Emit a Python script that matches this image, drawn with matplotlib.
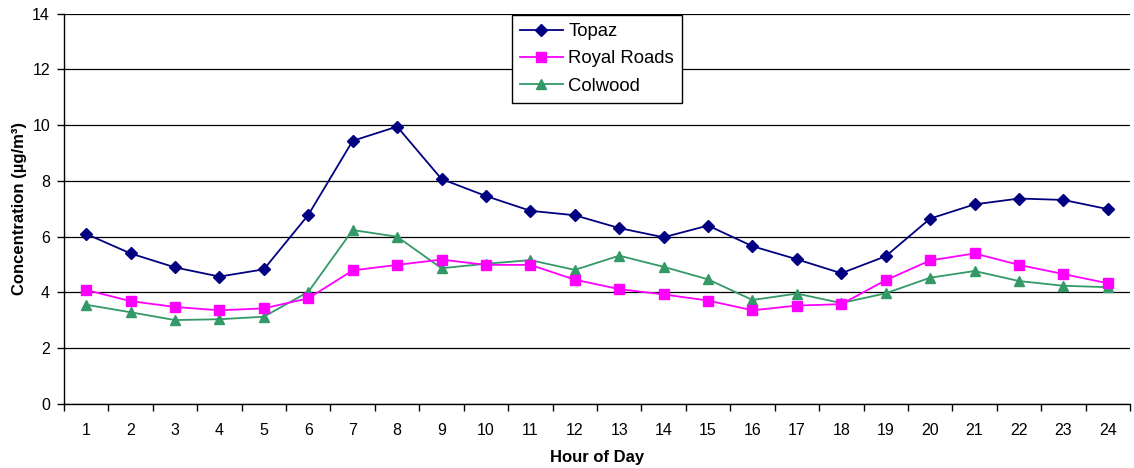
import matplotlib
matplotlib.use("Agg")
import matplotlib.pyplot as plt
import numpy as np

hours = list(range(1, 25))
hour_labels = [str(h) for h in hours]

topaz = [6.10, 5.40, 4.90, 4.57, 4.83, 6.78, 9.44, 9.95, 8.07, 7.46, 6.93, 6.77,
         6.31, 5.98, 6.40, 5.66, 5.19, 4.69, 5.30, 6.65, 7.16, 7.37, 7.32, 6.99]
royal_roads = [4.09, 3.69, 3.48, 3.36, 3.43, 3.79, 4.79, 4.99, 5.18, 4.99, 4.99, 4.46,
               4.12, 3.93, 3.71, 3.36, 3.53, 3.58, 4.44, 5.15, 5.40, 4.99, 4.66, 4.33]
colwood = [3.56, 3.29, 3.01, 3.04, 3.13, 4.02, 6.24, 6.00, 4.87, 5.03, 5.16, 4.81,
           5.32, 4.92, 4.47, 3.73, 3.96, 3.62, 3.97, 4.53, 4.77, 4.41, 4.24, 4.19]

y_ticks = [0, 2, 4, 6, 8, 10, 12, 14]

plt.rcParams['font.family'] = ['Liberation Sans', 'DejaVu Sans']

fig = plt.figure(figsize=(11.34, 4.68), dpi=100)
ax = fig.add_axes([0.0564, 0.1368, 0.9401, 0.8339])

ax.plot(hours, topaz, color='#000080', lw=1.3, marker='D', ms=6,
        markeredgecolor='#000080', label='Topaz', zorder=5)
ax.plot(hours, royal_roads, color='#FF00FF', lw=1.3, marker='s', ms=6.8,
        markeredgecolor='#FF00FF', label='Royal Roads', zorder=4)
ax.plot(hours, colwood, color='#339966', lw=1.3, marker='^', ms=7.2,
        markeredgecolor='#339966', label='Colwood', zorder=3)

ax.set_xlim(0.5, 24.5)
ax.set_ylim(0, 14)
ax.set_yticks(y_ticks)
ax.set_yticklabels([str(v) for v in y_ticks], fontsize=11.5)

# category boundaries carry the tick marks, labels sit at category centres
ax.set_xticks(np.arange(0.5, 25, 1))
ax.set_xticklabels([])
ax.set_xticks(hours, minor=True)
ax.set_xticklabels(hour_labels, minor=True, fontsize=11.5)
ax.tick_params(axis='x', which='major', direction='out', length=5, width=1, color='black')
ax.tick_params(axis='x', which='minor', length=0, pad=14)
ax.tick_params(axis='y', direction='out', length=5, width=1, color='black', pad=5)

ax.yaxis.grid(True, color='black', lw=0.9)
ax.set_axisbelow(True)

for side in ('top', 'right'):
    ax.spines[side].set_visible(False)
for side in ('left', 'bottom'):
    ax.spines[side].set_color('black')
    ax.spines[side].set_linewidth(1.0)

ax.set_xlabel('Hour of Day', fontsize=12, fontweight='bold', labelpad=8)
ax.set_ylabel('Concentration (µg/m³)', fontsize=12, fontweight='bold', labelpad=4)

leg = ax.legend(loc='upper center', bbox_to_anchor=(0.5, 0.997), fontsize=13.3,
                frameon=True, fancybox=False, edgecolor='black', framealpha=1,
                handlelength=2.3, handletextpad=0.3, borderpad=0.45,
                labelspacing=0.55, borderaxespad=0)
leg.get_frame().set_linewidth(1.0)

fig.savefig('out.png', dpi=100)
